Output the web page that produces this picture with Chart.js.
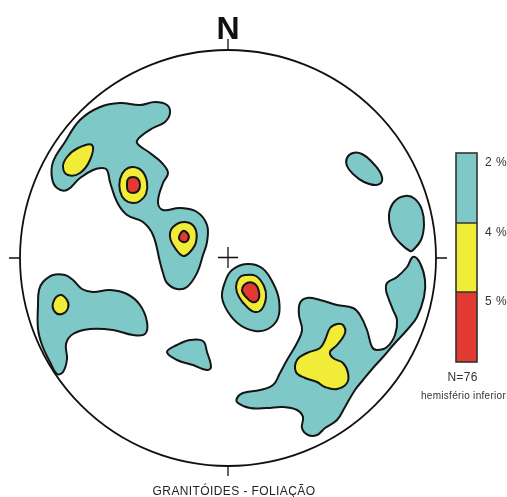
<!DOCTYPE html>
<html>
<head>
<meta charset="utf-8">
<script src="https://cdn.jsdelivr.net/npm/chart.js@4/dist/chart.umd.min.js"></script>
<style>
  html, body { margin: 0; padding: 0; background: #fff; }
  #wrap { position: relative; width: 507px; height: 497px; }
</style>
</head>
<body>
<div id="wrap"><canvas id="net"></canvas></div>
<script>
// Equal-area net, lower hemisphere. Coordinates: x east, y north, net radius 208.
const NET_RADIUS = 208;
const chartTitle = 'GRANITÓIDES - FOLIAÇÃO';
const northLabel = 'N';
const levelLabels = ['2 %', '4 %', '5 %'];
const sampleLabel = 'N=76';
const hemisphereLabel = 'hemisfério inferior';

// 2 % contour areas
const contour2 = [
  [[-148,138],[-128,151],[-108,155],[-88,153],[-73,156],[-61,153],[-58,145],[-63,136],[-75,130],[-88,121],
   [-91,115],[-78,105],[-66,95],[-60,85],[-65,75],[-70,56],[-65,48],[-48,50],[-31,46],[-21,33],[-21,16],
   [-25,3],[-31,-15],[-41,-29],[-51,-31],[-61,-25],[-65,-15],[-68,-4],[-75,23],[-85,36],[-101,43],[-111,56],
   [-118,76],[-121,88],[-126,90],[-135,88],[-148,80],[-161,68],[-171,70],[-176,80],[-175,96],[-163,116]],
  [[-185,-24],[-175,-17],[-163,-17],[-155,-22],[-146,-31],[-135,-34],[-118,-32],[-101,-36],[-88,-47],
   [-81,-64],[-83,-76],[-95,-77],[-115,-72],[-138,-71],[-155,-76],[-162,-86],[-161,-101],[-165,-114],
   [-171,-116],[-178,-104],[-186,-87],[-190,-71],[-190,-47],[-189,-32]],
  [[-3,-24],[4,-12],[19,-6],[34,-10],[45,-25],[51,-42],[50,-60],[40,-71],[27,-73],[12,-67],[0,-54],[-6,-39]],
  [[-61,-94],[-51,-87],[-38,-82],[-25,-83],[-21,-94],[-17,-109],[-21,-112],[-35,-107],[-51,-102]],
  [[119,100],[125,105],[134,104],[144,96],[152,86],[154,77],[148,73],[136,76],[125,84],[119,92]],
  [[177,62],[187,59],[194,48],[196,33],[193,18],[185,8],[182,7],[172,15],[164,26],[161,43],[166,56]],
  [[185,1],[192,-5],[197,-22],[196,-39],[189,-59],[179,-72],[167,-85],[155,-99],[145,-110],[135,-122],
   [127,-132],[117,-149],[109,-162],[97,-170],[89,-177],[80,-177],[74,-170],[75,-159],[69,-152],[55,-149],
   [39,-150],[22,-150],[10,-145],[9,-140],[15,-135],[32,-132],[45,-127],[52,-115],[59,-102],[69,-85],
   [74,-72],[71,-57],[72,-45],[79,-40],[92,-42],[109,-47],[125,-50],[132,-57],[139,-72],[144,-89],
   [149,-92],[159,-89],[167,-77],[169,-62],[165,-52],[160,-39],[158,-32],[159,-25],[169,-19],[179,-9]]
];

// 4 % contour areas
const contour4 = [
  [[-136,113],[-138,98],[-148,85],[-160,83],[-165,91],[-161,101],[-150,110]],
  [[-95,91],[-86,87],[-81,76],[-82,64],[-88,57],[-95,55],[-103,58],[-108,67],[-108,79],[-103,88]],
  [[-43,36],[-33,30],[-32,16],[-38,6],[-45,2],[-53,10],[-58,21],[-55,31]],
  [[-168,-37],[-161,-42],[-160,-50],[-166,-56],[-173,-54],[-175,-45]],
  [[17,-17],[28,-18],[36,-28],[38,-39],[34,-51],[27,-54],[19,-49],[11,-39],[8,-29],[11,-20]],
  [[115,-67],[117,-75],[109,-87],[102,-94],[105,-100],[115,-105],[120,-115],[119,-125],[109,-131],
   [97,-129],[89,-124],[77,-120],[68,-114],[69,-102],[79,-95],[92,-90],[97,-82],[102,-70],[109,-66]]
];

// 5 % contour areas
const contour5 = [
  [[-95,81],[-90,79],[-88,73],[-90,67],[-95,65],[-100,67],[-101,73],[-100,79]],
  [[-45,27],[-40,24],[-40,18],[-45,16],[-49,20]],
  [[19,-25],[27,-26],[31,-34],[30,-42],[24,-44],[18,-39],[14,-32]]
];

const levelColors = ['#7fc8c8', '#f0ec38', '#e03a32'];
const outlineColor = '#151515';

function contourDatasets(polys, color, order) {
  return polys.map(poly => ({
    data: poly.map(([x, y]) => ({ x, y })),
    showLine: true,
    fill: 'shape',
    backgroundColor: color,
    borderColor: outlineColor,
    borderWidth: 2,
    pointRadius: 0,
    pointHoverRadius: 0,
    tension: 0.4,
    spanGaps: true,
    order
  }));
}

// close every contour as a smooth loop
const closedContours = {
  id: 'closedContours',
  afterDatasetUpdate(chart, args) {
    const line = args.meta.dataset;
    if (line) { line._loop = true; line._fullLoop = true; }
  }
};

// net outline, ticks, centre cross, labels and colour key
const netFrame = {
  id: 'netFrame',
  afterDatasetsDraw(chart) {
    const { ctx, scales: { x, y } } = chart;
    const cx = x.getPixelForValue(0), cy = y.getPixelForValue(0);
    const r = x.getPixelForValue(NET_RADIUS) - cx;
    ctx.save();
    ctx.strokeStyle = '#111';
    ctx.lineWidth = 1.8;
    ctx.beginPath();
    ctx.arc(cx, cy, r, 0, Math.PI * 2);
    ctx.stroke();

    ctx.lineWidth = 1.3;
    ctx.beginPath();
    ctx.moveTo(cx - r - 11, cy); ctx.lineTo(cx - r, cy);
    ctx.moveTo(cx + r, cy); ctx.lineTo(cx + r + 11, cy);
    ctx.moveTo(cx, cy - r - 11); ctx.lineTo(cx, cy - r);
    ctx.moveTo(cx, cy + r); ctx.lineTo(cx, cy + r + 10);
    ctx.moveTo(cx - 10, cy - 0.5); ctx.lineTo(cx + 10, cy - 0.5);
    ctx.moveTo(cx, cy - 11); ctx.lineTo(cx, cy + 10);
    ctx.stroke();

    ctx.fillStyle = '#111';
    ctx.textAlign = 'center';
    ctx.textBaseline = 'alphabetic';
    ctx.font = 'bold 32px "Liberation Sans", Arial, sans-serif';
    ctx.fillText(northLabel, cx, cy - r - 11);

    ctx.fillStyle = '#222';
    ctx.font = '12px "Liberation Sans", Arial, sans-serif';
    ctx.letterSpacing = '0.4px';
    ctx.fillText(chartTitle, cx + 6, cy + r + 29);

    // colour key
    const kx = cx + r + 20, kw = 21;
    const bands = [153, 223, 292, 362];
    for (let i = 0; i < levelColors.length; i++) {
      ctx.fillStyle = levelColors[i];
      ctx.fillRect(kx, bands[i], kw, bands[i + 1] - bands[i]);
    }
    ctx.strokeStyle = '#333';
    ctx.lineWidth = 1.6;
    ctx.strokeRect(kx, bands[0], kw, bands[3] - bands[0]);
    ctx.beginPath();
    ctx.moveTo(kx, bands[1]); ctx.lineTo(kx + kw, bands[1]);
    ctx.moveTo(kx, bands[2]); ctx.lineTo(kx + kw, bands[2]);
    ctx.stroke();

    ctx.fillStyle = '#333';
    ctx.textAlign = 'left';
    ctx.letterSpacing = '0.5px';
    ctx.font = '12px "Liberation Sans", Arial, sans-serif';
    levelLabels.forEach((t, i) => ctx.fillText(t, kx + 29, bands[i] + 13));

    ctx.textAlign = 'center';
    ctx.letterSpacing = '0.3px';
    ctx.fillText(sampleLabel, kx + kw / 2 - 4, 381);
    ctx.font = '10px "Liberation Sans", Arial, sans-serif';
    ctx.fillText(hemisphereLabel, kx + kw / 2 - 3, 399);
    ctx.restore();
  }
};

new Chart(document.getElementById('net'), {
  type: 'scatter',
  data: {
    datasets: [
      ...contourDatasets(contour5, levelColors[2], 1),
      ...contourDatasets(contour4, levelColors[1], 2),
      ...contourDatasets(contour2, levelColors[0], 3)
    ]
  },
  options: {
    responsive: true,
    maintainAspectRatio: false,
    animation: false,
    layout: { padding: { left: 20, top: 50, right: 71, bottom: 31 } },
    scales: {
      x: { type: 'linear', min: -NET_RADIUS, max: NET_RADIUS, display: false },
      y: { type: 'linear', min: -NET_RADIUS, max: NET_RADIUS, display: false }
    },
    plugins: { legend: { display: false }, title: { display: false }, tooltip: { enabled: false } },
    events: []
  },
  plugins: [closedContours, netFrame]
});
</script>
</body>
</html>
